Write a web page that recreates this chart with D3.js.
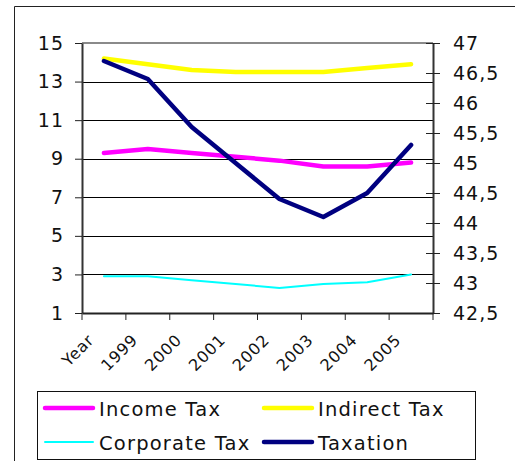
<!DOCTYPE html>
<html>
<head>
<meta charset="utf-8">
<script src="https://cdn.jsdelivr.net/npm/d3@7"></script>
<style>
  body { margin: 0; background: #fff; }
  svg { display: block; }
  text { font-family: "DejaVu Sans", Verdana, sans-serif; fill: #111; }
</style>
</head>
<body>
<svg id="chart" width="515" height="461"></svg>
<script>
// Tax revenue series (left axis) and total taxation (right axis)
const categories   = ["Year", "1999", "2000", "2001", "2002", "2003", "2004", "2005"];
const incomeTax    = [9.3, 9.5, 9.3, 9.1, 8.9, 8.6, 8.6, 8.8];
const indirectTax  = [14.2, 13.9, 13.6, 13.5, 13.5, 13.5, 13.7, 13.9];
const corporateTax = [2.9, 2.9, 2.7, 2.5, 2.3, 2.5, 2.6, 3.0];
const taxation     = [46.7, 46.4, 45.6, 45.0, 44.4, 44.1, 44.5, 45.3];
const leftTicks    = [1, 3, 5, 7, 9, 11, 13, 15];
const rightTicks   = [42.5, 43, 43.5, 44, 44.5, 45, 45.5, 46, 46.5, 47];

const series = [
  { name: "Income Tax",    values: incomeTax,    color: "#ff00ff", width: 4.5, axis: "left"  },
  { name: "Indirect Tax",  values: indirectTax,  color: "#ffff00", width: 4.5, axis: "left"  },
  { name: "Corporate Tax", values: corporateTax, color: "#00ffff", width: 2,   axis: "left"  },
  { name: "Taxation",      values: taxation,     color: "#000080", width: 4.5, axis: "right" }
];

const svg = d3.select("#chart");
const plot = { left: 82, right: 433, top: 43, bottom: 313 };

const x  = d3.scaleBand().domain(categories).range([plot.left, plot.right]);
const yL = d3.scaleLinear().domain([1, 15]).range([plot.bottom, plot.top]);
const yR = d3.scaleLinear().domain([42.5, 47]).range([plot.bottom, plot.top]);
const fmtComma = v => String(v).replace(".", ",");

// outer chart frame
svg.append("path")
  .attr("d", "M14.5,461 V6.5 H515")
  .attr("fill", "none").attr("stroke", "#222").attr("stroke-width", 1);

// horizontal gridlines
svg.append("g").selectAll("line")
  .data(leftTicks.filter(v => v > 1 && v < 15))
  .join("line")
  .attr("x1", plot.left).attr("x2", plot.right)
  .attr("y1", d => Math.round(yL(d)) + 0.5).attr("y2", d => Math.round(yL(d)) + 0.5)
  .attr("stroke", "#000").attr("stroke-width", 1);

// plot area top border
svg.append("line")
  .attr("x1", plot.left).attr("x2", plot.right)
  .attr("y1", yL(15)).attr("y2", yL(15))
  .attr("stroke", "#8a8a8a").attr("stroke-width", 2);

// left axis
const gL = svg.append("g")
  .attr("transform", `translate(${plot.left},0)`)
  .call(d3.axisLeft(yL).tickValues(leftTicks).tickSize(7).tickPadding(11).tickSizeOuter(0));
gL.select(".domain").attr("stroke", "#333").attr("stroke-width", 2);
gL.selectAll(".tick line").attr("stroke", "#222");
gL.selectAll(".tick text")
  .style("font-size", "19px").style("letter-spacing", "1px").attr("fill", "#111");

// right axis (ticks cross the axis line)
const gR = svg.append("g")
  .attr("transform", `translate(${plot.right},0)`)
  .call(d3.axisRight(yR).tickValues(rightTicks).tickFormat(fmtComma).tickSize(7).tickPadding(13).tickSizeOuter(0));
gR.select(".domain").attr("stroke", "#333").attr("stroke-width", 2);
gR.selectAll(".tick line").attr("x1", -7).attr("stroke", "#222");
gR.selectAll(".tick text")
  .style("font-size", "19px").style("letter-spacing", "1px").attr("fill", "#111");

// bottom axis: category labels at band centres, tick marks at band edges
const gB = svg.append("g")
  .attr("transform", `translate(0,${plot.bottom})`)
  .call(d3.axisBottom(x).tickSize(0).tickSizeOuter(0));
gB.select(".domain").attr("stroke", "#222").attr("stroke-width", 2);
gB.selectAll(".tick text")
  .attr("x", 0).attr("y", 0).attr("dy", "0.35em")
  .attr("text-anchor", "end")
  .attr("transform", "translate(-13,24) rotate(-45)")
  .style("font-size", "16px").style("letter-spacing", "0.8px").attr("fill", "#111");
const edges = categories.map(c => x(c)).concat([x.range()[1]]);
gB.append("g").selectAll("line")
  .data(edges)
  .join("line")
  .attr("x1", d => d).attr("x2", d => d)
  .attr("y1", 0).attr("y2", 7)
  .attr("stroke", "#222");

// series lines
series.forEach(s => {
  const y = s.axis === "left" ? yL : yR;
  const line = d3.line()
    .x((d, i) => x(categories[i]) + x.bandwidth() / 2)
    .y(d => y(d));
  svg.append("path")
    .datum(s.values)
    .attr("d", line)
    .attr("fill", "none")
    .attr("stroke", s.color)
    .attr("stroke-width", s.width)
    .attr("stroke-linejoin", "round")
    .attr("stroke-linecap", "round");
});

// legend
const legend = svg.append("g");
legend.append("rect")
  .attr("x", 37.5).attr("y", 391.5).attr("width", 438).attr("height", 68)
  .attr("fill", "#fff").attr("stroke", "#111").attr("stroke-width", 1);
const legendPos = [
  { x: 43,  y: 408 }, { x: 262, y: 408 },
  { x: 43,  y: 442 }, { x: 262, y: 442 }
];
series.forEach((s, i) => {
  const p = legendPos[i];
  legend.append("line")
    .attr("x1", p.x + 2).attr("x2", p.x + 50)
    .attr("y1", p.y).attr("y2", p.y)
    .attr("stroke", s.color).attr("stroke-width", s.width)
    .attr("stroke-linecap", "round");
  legend.append("text")
    .attr("x", p.x + 56).attr("y", p.y + 1).attr("dy", "0.35em")
    .style("font-size", "19.5px").style("letter-spacing", "1.2px")
    .text(s.name);
});
</script>
</body>
</html>
